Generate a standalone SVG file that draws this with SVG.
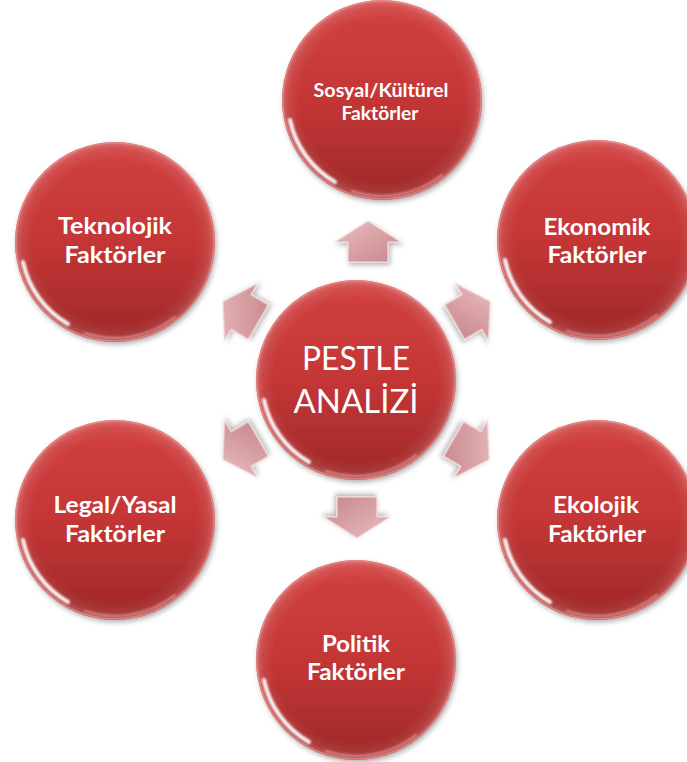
<svg xmlns="http://www.w3.org/2000/svg" width="687" height="762" viewBox="0 0 687 762">
  <defs>
    <linearGradient id="ballFill" x1="0" y1="0" x2="0" y2="1">
      <stop offset="0" stop-color="#d24141"/>
      <stop offset="0.5" stop-color="#c43636"/>
      <stop offset="1" stop-color="#9e2828"/>
    </linearGradient>
    <radialGradient id="ballShade" cx="0.5" cy="0.5" r="0.5">
      <stop offset="0.82" stop-color="#ffffff" stop-opacity="0"/>
      <stop offset="0.93" stop-color="#ffffff" stop-opacity="0.08"/>
      <stop offset="1" stop-color="#ffffff" stop-opacity="0.25"/>
    </radialGradient>
    <linearGradient id="arrowFill" x1="0" y1="0" x2="1" y2="1">
      <stop offset="0" stop-color="#ebbdc0"/>
      <stop offset="1" stop-color="#c6868a"/>
    </linearGradient>
    <filter id="shadow" x="-20%" y="-20%" width="140%" height="140%">
      <feDropShadow dx="1.5" dy="2.5" stdDeviation="2.5" flood-color="#000000" flood-opacity="0.3"/>
    </filter>
    <filter id="blur" x="-20%" y="-20%" width="140%" height="140%">
      <feGaussianBlur stdDeviation="1.2"/>
    </filter>
    <path id="arrowShape" d="M0,-21 L33,0 L20,0 L20,20 L-20,20 L-20,0 L-33,0 Z"/>
    <style>
      .ball { fill: url(#ballFill); }
      .shade { fill: url(#ballShade); }
      .rim { fill: none; stroke: #e78a8a; stroke-width: 1.5; stroke-opacity: 0.8; }
      .gloss { fill: none; stroke: #ffffff; stroke-width: 4; stroke-linecap: round; stroke-opacity: 0.95; filter: url(#blur); }
      .gloss2 { fill: none; stroke: #ffd0d0; stroke-width: 2; stroke-linecap: round; stroke-opacity: 0.5; filter: url(#blur); }
      .lbl { font-family: Lato, "Open Sans", "Liberation Sans", sans-serif; font-weight: bold; font-size: 22px; fill: #ffffff; text-anchor: middle; }
      .lblS { font-family: Lato, "Open Sans", "Liberation Sans", sans-serif; font-weight: bold; font-size: 18px; fill: #ffffff; text-anchor: middle; }
      .title { font-family: Lato, "Open Sans", "Liberation Sans", sans-serif; font-weight: normal; font-size: 32px; fill: #ffffff; text-anchor: middle; }
      .arrow { fill: url(#arrowFill); stroke: #f4dcdd; stroke-width: 1.2; stroke-linejoin: round; filter: url(#shadow); }
    </style>
  </defs>

  <rect x="0" y="0" width="687" height="762" fill="#ffffff"/>

  <g id="connectors">
    <use href="#arrowShape" class="arrow" transform="translate(368,242)"/>
    <use href="#arrowShape" class="arrow" transform="translate(357,517) rotate(180)"/>
    <use href="#arrowShape" class="arrow" transform="translate(241,312) rotate(-60)"/>
    <use href="#arrowShape" class="arrow" transform="translate(472,312) rotate(60)"/>
    <use href="#arrowShape" class="arrow" transform="translate(471,449) rotate(120)"/>
    <use href="#arrowShape" class="arrow" transform="translate(241,449) rotate(-120)"/>
  </g>

  <g id="node-center" transform="translate(356,380)">
    <circle class="ball" r="100" filter="url(#shadow)"/>
    <circle class="shade" r="100"/>
    <circle class="rim" r="99"/>
    <path class="gloss" d="M-47,82 A94,94 0 0 1 -92,20"/>
    <path class="gloss2" d="M60,75 A96,96 0 0 1 -30,91"/>
    <text class="title" x="0" y="-10" textLength="108" lengthAdjust="spacingAndGlyphs">PESTLE</text>
    <text class="title" x="0" y="33" textLength="125" lengthAdjust="spacingAndGlyphs">ANALİZİ</text>
  </g>

  <g id="node-sosyal" transform="translate(382,100)">
    <circle class="ball" r="100" filter="url(#shadow)"/>
    <circle class="shade" r="100"/>
    <circle class="rim" r="99"/>
    <path class="gloss" d="M-47,82 A94,94 0 0 1 -92,20"/>
    <path class="gloss2" d="M60,75 A96,96 0 0 1 -30,91"/>
    <text class="lblS" x="-1" y="-3" textLength="135" lengthAdjust="spacingAndGlyphs">Sosyal/Kültürel</text>
    <text class="lblS" x="-2" y="20" textLength="77" lengthAdjust="spacingAndGlyphs">Faktörler</text>
  </g>

  <g id="node-ekonomik" transform="translate(597,240)">
    <circle class="ball" r="100" filter="url(#shadow)"/>
    <circle class="shade" r="100"/>
    <circle class="rim" r="99"/>
    <path class="gloss" d="M-47,82 A94,94 0 0 1 -92,20"/>
    <path class="gloss2" d="M60,75 A96,96 0 0 1 -30,91"/>
    <text class="lbl" x="0" y="-5" textLength="107" lengthAdjust="spacingAndGlyphs">Ekonomik</text>
    <text class="lbl" x="0" y="23" textLength="99" lengthAdjust="spacingAndGlyphs">Faktörler</text>
  </g>

  <g id="node-teknolojik" transform="translate(115,242)">
    <circle class="ball" r="100" filter="url(#shadow)"/>
    <circle class="shade" r="100"/>
    <circle class="rim" r="99"/>
    <path class="gloss" d="M-47,82 A94,94 0 0 1 -92,20"/>
    <path class="gloss2" d="M60,75 A96,96 0 0 1 -30,91"/>
    <text class="lbl" x="0" y="-8" textLength="114" lengthAdjust="spacingAndGlyphs">Teknolojik</text>
    <text class="lbl" x="0" y="21" textLength="101" lengthAdjust="spacingAndGlyphs">Faktörler</text>
  </g>

  <g id="node-legal" transform="translate(115,520)">
    <circle class="ball" r="100" filter="url(#shadow)"/>
    <circle class="shade" r="100"/>
    <circle class="rim" r="99"/>
    <path class="gloss" d="M-47,82 A94,94 0 0 1 -92,20"/>
    <path class="gloss2" d="M60,75 A96,96 0 0 1 -30,91"/>
    <text class="lbl" x="0" y="-7" textLength="123" lengthAdjust="spacingAndGlyphs">Legal/Yasal</text>
    <text class="lbl" x="0" y="22" textLength="100" lengthAdjust="spacingAndGlyphs">Faktörler</text>
  </g>

  <g id="node-ekolojik" transform="translate(597,520)">
    <circle class="ball" r="100" filter="url(#shadow)"/>
    <circle class="shade" r="100"/>
    <circle class="rim" r="99"/>
    <path class="gloss" d="M-47,82 A94,94 0 0 1 -92,20"/>
    <path class="gloss2" d="M60,75 A96,96 0 0 1 -30,91"/>
    <text class="lbl" x="-1" y="-7" textLength="86" lengthAdjust="spacingAndGlyphs">Ekolojik</text>
    <text class="lbl" x="0" y="22" textLength="98" lengthAdjust="spacingAndGlyphs">Faktörler</text>
  </g>

  <g id="node-politik" transform="translate(356,660)">
    <circle class="ball" r="100" filter="url(#shadow)"/>
    <circle class="shade" r="100"/>
    <circle class="rim" r="99"/>
    <path class="gloss" d="M-47,82 A94,94 0 0 1 -92,20"/>
    <path class="gloss2" d="M60,75 A96,96 0 0 1 -30,91"/>
    <text class="lbl" x="0" y="-8" textLength="68" lengthAdjust="spacingAndGlyphs">Politik</text>
    <text class="lbl" x="0" y="20" textLength="98" lengthAdjust="spacingAndGlyphs">Faktörler</text>
  </g>
</svg>
